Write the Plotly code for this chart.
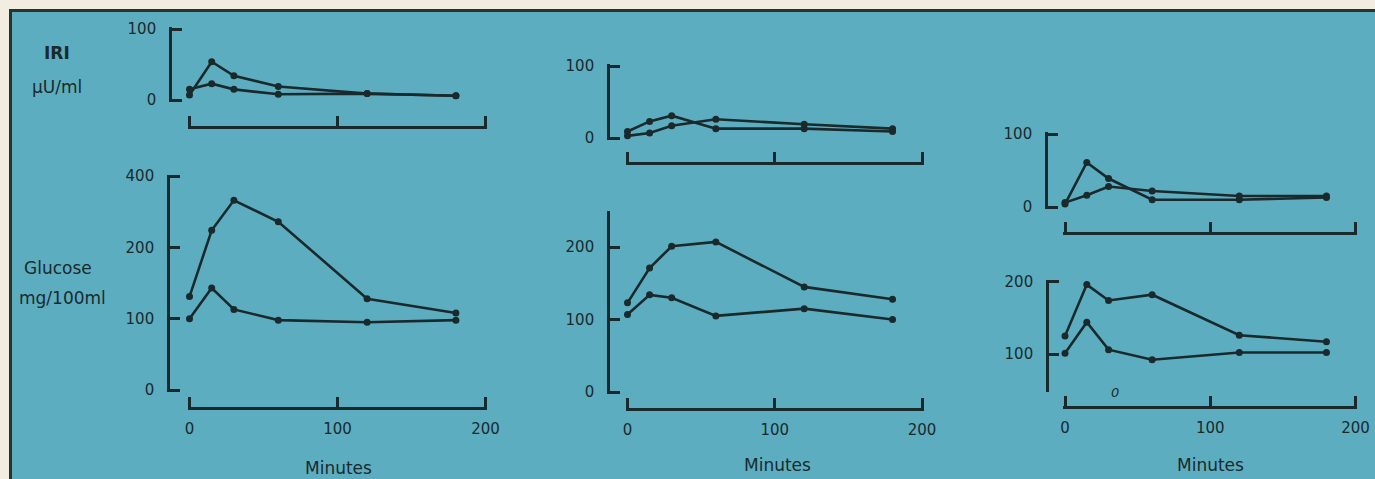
import plotly.graph_objects as go

W, H = 1375, 479

minutes = [0, 15, 30, 60, 120, 180]

# Panel 1
iri1_a = [7, 54, 34, 19, 9, 6]
iri1_b = [15, 23, 15, 8, 9, 6]
glu1_a = [131, 224, 266, 236, 128, 108]
glu1_b = [100, 143, 113, 98, 95, 98]
# Panel 2
iri2_a = [9, 23, 31, 13, 13, 9]
iri2_b = [3, 7, 17, 26, 19, 13]
glu2_a = [123, 171, 201, 207, 145, 128]
glu2_b = [107, 134, 130, 105, 115, 100]
# Panel 3
iri3_a = [4, 61, 39, 10, 10, 13]
iri3_b = [6, 16, 28, 22, 15, 15]
glu3_a = [125, 196, 174, 182, 126, 117]
glu3_b = [101, 144, 106, 92, 102, 102]

x_ticks = [0, 100, 200]
x_ticktext = ["0", "100", "200"]
iri_ticks = [0, 100]
iri_ticktext = ["0", "100"]
glu1_ticks = [0, 100, 200, 300]
glu1_ticktext = ["0", "100", "200", "400"]
glu2_ticks = [0, 100, 200]
glu2_ticktext = ["0", "100", "200"]
glu3_ticks = [100, 200]
glu3_ticktext = ["100", "200"]

INK = "#1a2a2c"
BG = "#5dadc1"
FONT = "DejaVu Sans"
PAD = 1.6  # px so that end ticks are not clipped

def fx(px):
    return px / W

def fy(px):
    return 1 - px / H

# (x0px, x200px, y_ref_val, y_ref_px, px_per_unit, ylo, yhi, yline_x, xline_y, yticks, yticktext, xlabels, series)
panels = [
    (189.5, 485.5, 0, 100, 0.71, 0, 100, 170, 127, iri_ticks, iri_ticktext, False, [iri1_a, iri1_b]),
    (189.5, 485.5, 0, 390, 0.713, 0, 300, 168, 408, glu1_ticks, glu1_ticktext, True, [glu1_a, glu1_b]),
    (627.5, 922.0, 0, 138, 0.72, 0, 100, 608, 163, iri_ticks, iri_ticktext, False, [iri2_a, iri2_b]),
    (627.5, 922.0, 0, 392, 0.725, 0, 247, 608, 409, glu2_ticks, glu2_ticktext, True, [glu2_a, glu2_b]),
    (1065.0, 1355.5, 0, 207, 0.73, 0, 100, 1046, 233, iri_ticks, iri_ticktext, False, [iri3_a, iri3_b]),
    (1065.0, 1355.5, 100, 354, 0.723, 50, 200, 1047, 406.7, glu3_ticks, glu3_ticktext, True, [glu3_a, glu3_b]),
]

fig = go.Figure()
layout = {}
for i, (x0, x1, yv, ypx, ys, ylo, yhi, ylx, xly, yt_v, yt_t, xlab, series) in enumerate(panels):
    n = "" if i == 0 else str(i + 1)
    for s in series:
        fig.add_trace(go.Scatter(
            x=minutes, y=s, mode="lines+markers",
            xaxis="x" + n, yaxis="y" + n,
            line=dict(color=INK, width=2.6),
            marker=dict(color=INK, size=7),
            showlegend=False, hoverinfo="skip", cliponaxis=False,
        ))
    xs = (x1 - x0) / 200.0
    xpad = PAD / xs
    ypad = PAD / ys
    ybot_px = ypx + (yv - ylo) * ys + PAD
    ytop_px = ypx - (yhi - yv) * ys - PAD
    layout["xaxis" + n] = dict(
        domain=[fx(x0 - PAD), fx(x1 + PAD)], range=[-xpad, 200 + xpad],
        anchor="free", position=fy(xly), automargin=False,
        showgrid=False, zeroline=False, showline=True, linecolor=INK, linewidth=2.6,
        ticks="inside", ticklen=10, tickwidth=2.6, tickcolor=INK,
        tickvals=x_ticks, ticktext=x_ticktext, showticklabels=xlab,
        ticklabelstandoff=6,
        tickfont=dict(family=FONT, size=15, color=INK), fixedrange=True,
    )
    layout["yaxis" + n] = dict(
        domain=[fy(ybot_px), fy(ytop_px)], range=[ylo - ypad, yhi + ypad],
        anchor="free", position=fx(ylx), automargin=False,
        showgrid=False, zeroline=False, showline=True, linecolor=INK, linewidth=2.6,
        ticks="inside", ticklen=10, tickwidth=2.6, tickcolor=INK,
        tickvals=yt_v, ticktext=yt_t, ticklabelstandoff=10,
        tickfont=dict(family=FONT, size=15, color=INK), fixedrange=True,
    )

annots = [
    ("<b>IRI</b>", 57, 53, 17),
    ("μU/ml", 57, 87, 17),
    ("Glucose", 58, 268, 17),
    ("mg/100ml", 62, 298, 17),
    ("Minutes", 338, 468, 17),
    ("Minutes", 778, 465, 17),
    ("Minutes", 1210, 465, 17),
]
annotations = [
    dict(text=t, x=fx(x), y=fy(y), xref="paper", yref="paper", showarrow=False,
         xanchor="center", yanchor="middle", font=dict(family=FONT, size=s, color=INK))
    for t, x, y, s in annots
]
annotations.append(dict(text="<i>0</i>", x=fx(1115), y=fy(392), xref="paper", yref="paper",
                        showarrow=False, xanchor="center", yanchor="middle",
                        font=dict(family=FONT, size=13, color=INK)))

shapes = [
    dict(type="rect", xref="paper", yref="paper", x0=0, x1=1, y0=fy(9), y1=1,
         fillcolor="#f2ede0", line=dict(width=0), layer="below"),
    dict(type="rect", xref="paper", yref="paper", x0=0, x1=fx(9), y0=0, y1=1,
         fillcolor="#f2ede0", line=dict(width=0), layer="below"),
    dict(type="line", xref="paper", yref="paper", x0=fx(9), x1=1, y0=fy(10.5), y1=fy(10.5),
         line=dict(color="#26352c", width=3), layer="below"),
    dict(type="line", xref="paper", yref="paper", x0=fx(10.5), x1=fx(10.5), y0=0, y1=fy(9),
         line=dict(color="#26352c", width=3), layer="below"),
]

fig.update_layout(
    width=W, height=H, margin=dict(l=0, r=0, t=0, b=0, pad=0, autoexpand=False),
    paper_bgcolor=BG, plot_bgcolor="rgba(0,0,0,0)",
    annotations=annotations, shapes=shapes, showlegend=False,
    **layout,
)
fig.write_html(
    "out.html",
    config={"displayModeBar": False},
    post_script="document.body.style.margin='0';document.body.style.overflow='hidden';",
)
